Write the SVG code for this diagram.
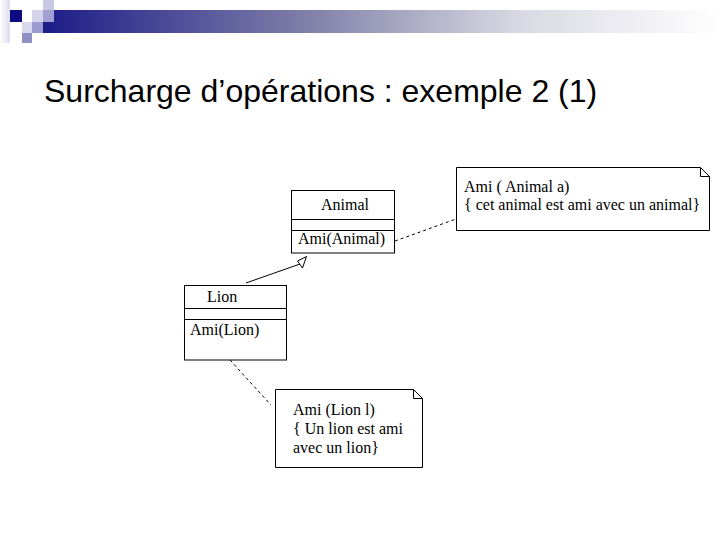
<svg xmlns="http://www.w3.org/2000/svg" width="720" height="540" viewBox="0 0 720 540">
<style>
.box{fill:#fff;stroke:#000;stroke-width:1}
.ln{stroke:#000;stroke-width:1;fill:none}
.dash{stroke:#000;stroke-width:1;fill:none;stroke-dasharray:3,3}
.t{font-family:"Liberation Serif","Times New Roman",serif;font-size:16px;fill:#000}
.title{font-family:"Liberation Sans",Arial,sans-serif;font-size:32px;fill:#000}
</style>
<defs>
<linearGradient id="bar" x1="0" y1="0" x2="1" y2="0">
<stop offset="0" stop-color="#1c1c88"/>
<stop offset="0.4" stop-color="#8282aa"/>
<stop offset="0.7" stop-color="#d8d8e2"/>
<stop offset="1" stop-color="#ffffff"/>
</linearGradient>
<linearGradient id="strip" x1="0" y1="0" x2="1" y2="0">
<stop offset="0" stop-color="#ffffff"/>
<stop offset="1" stop-color="#dcdcee"/>
</linearGradient>
</defs>
<rect width="720" height="540" fill="#fff"/>
<g id="header">
<rect x="0" y="0" width="10" height="43" fill="url(#strip)"/>
<rect x="43" y="10" width="677" height="23" fill="url(#bar)"/>
<rect x="10" y="10" width="12" height="12" fill="#0c0c80"/>
<rect x="43" y="0" width="11" height="10" fill="#c8c8e4"/>
<rect x="32" y="10" width="11" height="12" fill="#d4d4ec"/>
<rect x="43" y="10" width="11" height="12" fill="#a0a0d4"/>
<rect x="22" y="22" width="10" height="11" fill="#d8d8ee"/>
<rect x="32" y="22" width="11" height="11" fill="#9c9cd0"/>
<rect x="22" y="33" width="10" height="10" fill="#9090c4"/>
</g>
<text class="title" x="44" y="102">Surcharge d’opérations : exemple 2 (1)</text>
<g id="connectors">
<line class="ln" x1="246" y1="283" x2="300" y2="264"/>
<polygon class="box" points="297.5,261 306.5,256.5 302.5,268"/>
<line class="dash" x1="395" y1="241" x2="456" y2="219"/>
<line class="dash" x1="230" y1="360" x2="271" y2="405"/>
</g>
<g id="animal">
<rect class="box" x="291.5" y="190.5" width="103" height="62.5"/>
<line class="ln" x1="291.5" y1="219.5" x2="394.5" y2="219.5"/>
<line class="ln" x1="291.5" y1="230.5" x2="394.5" y2="230.5"/>
<text class="t" x="345" y="210" text-anchor="middle">Animal</text>
<text class="t" x="298" y="244">Ami(Animal)</text>
</g>
<g id="lion">
<rect class="box" x="184.5" y="285.5" width="102" height="74.5"/>
<line class="ln" x1="184.5" y1="308.5" x2="286.5" y2="308.5"/>
<line class="ln" x1="184.5" y1="319.5" x2="286.5" y2="319.5"/>
<text class="t" x="207" y="302">Lion</text>
<text class="t" x="190" y="335">Ami(Lion)</text>
</g>
<g id="note1">
<path class="box" d="M456.5,167.5 H700.5 L709.5,176.5 V230.5 H456.5 Z"/>
<path class="ln" d="M700.5,167.5 V176.5 H709.5"/>
<text class="t" x="464" y="192">Ami ( Animal a)</text>
<text class="t" x="464" y="210">{ cet animal est ami avec un animal}</text>
</g>
<g id="note2">
<path class="box" d="M275.5,389.5 H413.5 L422.5,398.5 V467.5 H275.5 Z"/>
<path class="ln" d="M413.5,389.5 V398.5 H422.5"/>
<text class="t" x="293" y="415">Ami (Lion l)</text>
<text class="t" x="293" y="434">{ Un lion est ami</text>
<text class="t" x="293" y="453">avec un lion}</text>
</g>
</svg>
